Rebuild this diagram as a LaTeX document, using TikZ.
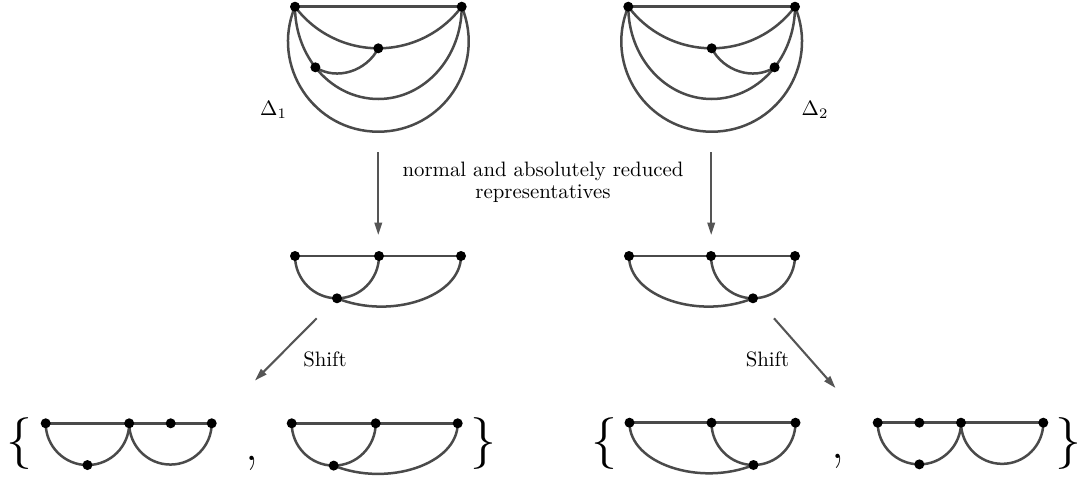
\documentclass[tikz,border=0pt]{standalone}
\usetikzlibrary{arrows.meta}
\definecolor{edgegray}{HTML}{4A4A4A}
\definecolor{arrowgray}{HTML}{555555}
\pgfdeclarelayer{edgelayer}
\pgfsetlayers{edgelayer,main}
\tikzset{
  edge/.style={draw=edgegray, line width=1.2pt},
  vtx/.style={circle, fill=black, draw=none, inner sep=0pt, minimum size=4.8pt},
  arr/.style={draw=arrowgray, line width=1pt, -{Stealth[length=6pt,width=3.6pt,inset=0pt]}},
  txt/.style={inner sep=0pt, font=\fontsize{10}{10.4}\selectfont, align=center},
  brace/.style={inner sep=0pt, font=\Huge},
}
% Delta graph (left vertex at origin)
\newcommand{\GraphDelta}[1]{%
  \node[vtx] (#1L) at (0,0) {};
  \node[vtx] (#1R) at (166.7,0) {};
  \node[vtx] (#1M) at (83.3,-41.6) {};
  \node[vtx] (#1P) at (20.4,-60.6) {};
  \begin{pgfonlayer}{edgelayer}
  \draw[edge] (#1L.center) -- (#1R.center);
  \draw[edge] (#1L.center) .. controls +(-53.1:32.8) and +(180:32.8) .. (#1M.center)
                         .. controls +(0:32.8) and +(233.1:32.8) .. (#1R.center);
  \draw[edge] (#1L.center) .. controls +(247.4:64.4) and +(180:64.4) .. (83.3,-125)
                         .. controls +(0:64.4) and +(292.6:64.4) .. (#1R.center);
  \draw[edge] (#1L.center) .. controls +(0,-22.25) and +(-13.2,16.8) .. (#1P.center)
                         .. controls +(15.8,-20.2) and +(-24.1,0) .. (83.3,-92.3)
                         .. controls +(46,0) and +(0,-51) .. (#1R.center);
  \draw[edge] (#1M.center) .. controls +(242.8:25.5) and +(327.5:25.5) .. (#1P.center);
  \end{pgfonlayer}
}
% reduced representative (left vertex at origin)
\newcommand{\GraphRep}[1]{%
  \node[vtx] (#1a) at (0,0) {};
  \node[vtx] (#1b) at (84,0) {};
  \node[vtx] (#1c) at (166,0) {};
  \node[vtx] (#1d) at (42,-42.3) {};
  \begin{pgfonlayer}{edgelayer}
  \draw[edge] (#1a.center) -- (#1b.center) -- (#1c.center);
  \draw[edge] (#1a.center) .. controls +(0,-23.2) and +(-23.2,0) .. (#1d.center)
                         .. controls +(23.2,0) and +(0,-23.2) .. (#1b.center);
  \draw[edge] (#1d.center) .. controls +(53.9,-21.7) and +(0,-40.9) .. (#1c.center);
  \end{pgfonlayer}
}
% shifted graph, left variant
\newcommand{\GraphShiftL}[1]{%
  \node[vtx] (#1a) at (0,0) {};
  \node[vtx] (#1b) at (83.5,0) {};
  \node[vtx] (#1e) at (125,0) {};
  \node[vtx] (#1c) at (166,0) {};
  \node[vtx] (#1d) at (41.75,-41.75) {};
  \begin{pgfonlayer}{edgelayer}
  \draw[edge] (#1a.center) -- (#1b.center) -- (#1e.center) -- (#1c.center);
  \draw[edge] (#1a.center) .. controls +(0,-23.06) and +(-23.06,0) .. (#1d.center)
                         .. controls +(23.06,0) and +(0,-23.06) .. (#1b.center);
  \draw[edge] (#1b.center) .. controls +(0,-22.8) and +(-22.8,0) .. (124.75,-41.25)
                         .. controls +(22.8,0) and +(0,-22.8) .. (#1c.center);
  \end{pgfonlayer}
}
% shifted graph, right variant
\newcommand{\GraphShiftR}[1]{%
  \node[vtx] (#1a) at (0,0) {};
  \node[vtx] (#1f) at (41.65,0) {};
  \node[vtx] (#1b) at (83.3,0) {};
  \node[vtx] (#1c) at (165.6,0) {};
  \node[vtx] (#1d) at (41.65,-41.65) {};
  \begin{pgfonlayer}{edgelayer}
  \draw[edge] (#1a.center) -- (#1f.center) -- (#1b.center) -- (#1c.center);
  \draw[edge] (#1a.center) .. controls +(0,-23) and +(-23,0) .. (#1d.center)
                         .. controls +(23,0) and +(0,-23) .. (#1b.center);
  \draw[edge] (#1b.center) .. controls +(0,-22.7) and +(-22.7,0) .. (124.45,-41.15)
                         .. controls +(22.7,0) and +(0,-22.7) .. (#1c.center);
  \end{pgfonlayer}
}
\begin{document}
\begin{tikzpicture}[x=0.48pt, y=0.48pt]
\useasboundingbox (0,0) rectangle (1081,-479);

% top graphs
\begin{scope}[shift={(295,-6.7)}] \GraphDelta{dA} \end{scope}
\begin{scope}[shift={(795,-6.7)}, xscale=-1] \GraphDelta{dB} \end{scope}
\node[txt] (lblA) at (273.5,-109.5) {$\Delta_1$};
\node[txt] (lblB) at (815,-109.5) {$\Delta_2$};

% vertical arrows and text
\coordinate (v1s) at (378.3,-152);
\coordinate (v1e) at (378.3,-235);
\coordinate (v2s) at (711.2,-152);
\coordinate (v2e) at (711.2,-235);
\draw[arr] (v1s) -- (v1e);
\draw[arr] (v2s) -- (v2e);
\node[txt] (caption) at (543,-182.4) {normal and absolutely reduced\\representatives};

% representatives
\begin{scope}[shift={(295,-256)}] \GraphRep{rA} \end{scope}
\begin{scope}[shift={(795,-256)}, xscale=-1] \GraphRep{rB} \end{scope}

% shift arrows
\coordinate (s1s) at (316.7,-318.3);
\coordinate (s1e) at (255,-380.5);
\coordinate (s2s) at (774,-318.3);
\coordinate (s2e) at (835.5,-388);
\draw[arr] (s1s) -- (s1e);
\draw[arr] (s2s) -- (s2e);
\node[txt] (shA) at (325,-359.2) {Shift};
\node[txt] (shB) at (767.5,-359.2) {Shift};

% bottom sets
\node[brace] (brA1) at (19,-443.3) {$\{$};
\begin{scope}[shift={(45.7,-423.3)}] \GraphShiftL{bA} \end{scope}
\node[txt] (cmA) at (252,-463) {\Huge ,};
\begin{scope}[shift={(291.7,-423.3)}] \GraphRep{bB} \end{scope}
\node[brace] (brA2) at (483.5,-443.3) {$\}$};

\node[brace] (brB1) at (604,-443.8) {$\{$};
\begin{scope}[shift={(795.5,-422.7)}, xscale=-1] \GraphRep{bC} \end{scope}
\node[txt] (cmB) at (837.5,-461.5) {\Huge ,};
\begin{scope}[shift={(877.7,-422.7)}] \GraphShiftR{bD} \end{scope}
\node[brace] (brB2) at (1068.5,-443.8) {$\}$};
\end{tikzpicture}
\end{document}
